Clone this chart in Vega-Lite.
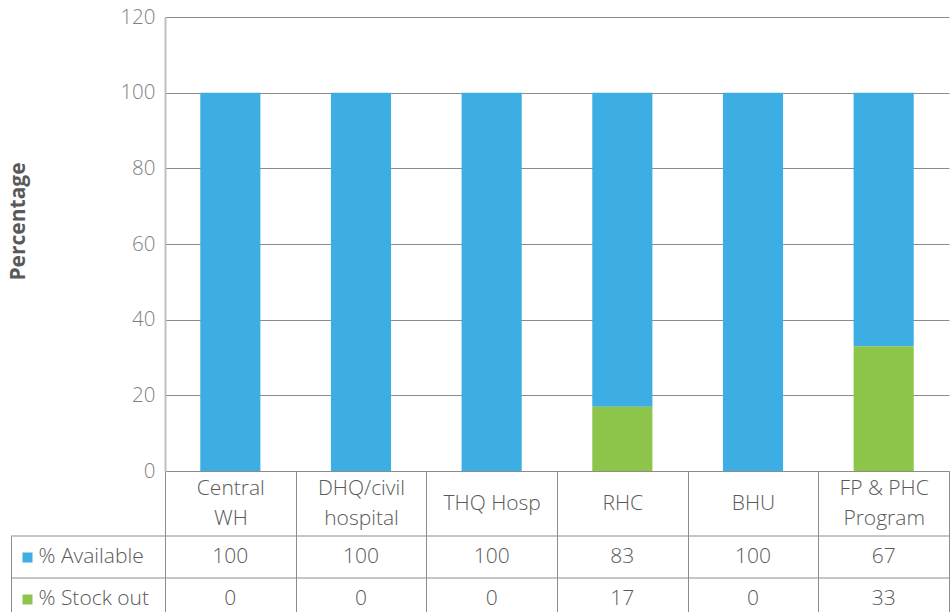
{
  "$schema": "https://vega.github.io/schema/vega-lite/v6.json",
  "padding": {"left": 7, "top": 7, "right": 0, "bottom": 0},
  "config": {
    "font": "Open Sans",
    "view": {"stroke": null},
    "axis": {"labelFont": "Open Sans", "titleFont": "Open Sans"}
  },
  "datasets": {
    "stock": [
      {"site": "Central WH", "series": "% Available", "value": 100},
      {"site": "Central WH", "series": "% Stock out", "value": 0},
      {"site": "DHQ/civil hospital", "series": "% Available", "value": 100},
      {"site": "DHQ/civil hospital", "series": "% Stock out", "value": 0},
      {"site": "THQ Hosp", "series": "% Available", "value": 100},
      {"site": "THQ Hosp", "series": "% Stock out", "value": 0},
      {"site": "RHC", "series": "% Available", "value": 83},
      {"site": "RHC", "series": "% Stock out", "value": 17},
      {"site": "BHU", "series": "% Available", "value": 100},
      {"site": "BHU", "series": "% Stock out", "value": 0},
      {"site": "FP & PHC Program", "series": "% Available", "value": 67},
      {"site": "FP & PHC Program", "series": "% Stock out", "value": 33}
    ],
    "rows": [
      {"series": "% Available"},
      {"series": "% Stock out"}
    ]
  },
  "columns": 2,
  "bounds": "flush",
  "align": "each",
  "spacing": {"row": 65, "column": 0},
  "resolve": {"scale": {"x": "independent", "y": "independent", "color": "independent"}},
  "concat": [
    {
      "width": 154,
      "height": 454,
      "data": {"values": [{}]},
      "mark": {"type": "text", "text": ""},
      "encoding": {}
    },
    {
      "width": 784,
      "height": 454,
      "data": {"name": "stock"},
      "mark": {"type": "bar", "width": {"band": 0.46}},
      "encoding": {
        "x": {
          "field": "site",
          "type": "nominal",
          "sort": null,
          "scale": {"paddingInner": 0, "paddingOuter": 0},
          "axis": {
            "title": null,
            "labelAngle": 0,
            "labelFontSize": 21,
            "labelFontWeight": 300,
            "labelColor": "#595959",
            "labelLineHeight": 30,
            "labelPadding": -32.5,
            "labelExpr": "datum.label == 'Central WH' ? ['Central', 'WH'] : datum.label == 'DHQ/civil hospital' ? ['DHQ/civil', 'hospital'] : datum.label == 'FP & PHC Program' ? ['FP & PHC', 'Program'] : datum.label",
            "labelBaseline": {"expr": "indexof(['Central WH', 'DHQ/civil hospital', 'FP & PHC Program'], datum.value) >= 0 ? 'line-bottom' : 'middle'"},
            "tickBand": "extent",
            "tickSize": 65,
            "tickColor": "#8C8C8C",
            "domainColor": "#8C8C8C",
            "grid": false
          }
        },
        "y": {
          "field": "value",
          "type": "quantitative",
          "stack": "zero",
          "scale": {"domain": [0, 120]},
          "axis": {
            "values": [0, 20, 40, 60, 80, 100, 120],
            "title": "Percentage",
            "titleFontSize": 21,
            "titleFontWeight": "bold",
            "titleColor": "#595959",
            "titleX": -137,
            "titleY": 204,
            "grid": true,
            "gridColor": "#8C8C8C",
            "ticks": false,
            "domainColor": "#BFBFBF",
            "domainWidth": 2,
            "labelFontSize": 20.5,
            "labelFontWeight": 300,
            "labelColor": "#7F7F7F",
            "labelPadding": 10
          }
        },
        "color": {
          "field": "series",
          "type": "nominal",
          "scale": {"domain": ["% Available", "% Stock out"], "range": ["#3DAEE4", "#8DC54B"]},
          "legend": null
        },
        "order": {"field": "series", "sort": "descending"}
      }
    },
    {
      "width": 154,
      "height": 76,
      "data": {"name": "rows"},
      "mark": {"type": "rule", "color": "#8C8C8C"},
      "encoding": {
        "y": {
          "field": "series",
          "type": "nominal",
          "bandPosition": 0,
          "scale": {"range": [0, 84], "paddingInner": 0, "paddingOuter": 0},
          "axis": {
            "title": null,
            "labels": false,
            "ticks": false,
            "grid": false,
            "domain": true,
            "domainColor": "#8C8C8C"
          }
        }
      }
    },
    {
      "width": 784,
      "height": 76,
      "layer": [
        {
          "data": {"name": "rows"},
          "mark": {"type": "rule", "color": "#8C8C8C"},
          "encoding": {
            "y": {"field": "series", "type": "nominal", "bandPosition": 0}
          }
        },
        {
          "data": {"name": "stock"},
          "mark": {"type": "text", "fontSize": 21, "fontWeight": 300, "color": "#595959", "baseline": "middle"},
          "encoding": {
            "x": {
              "field": "site",
              "type": "nominal",
              "sort": null,
              "scale": {"paddingInner": 0, "paddingOuter": 0},
              "axis": {
                "title": null,
                "labels": false,
                "ticks": false,
                "domain": false,
                "grid": true,
                "tickBand": "extent",
                "gridColor": "#8C8C8C"
              }
            },
            "y": {
              "field": "series",
              "type": "nominal",
              "scale": {"range": [0, 84], "paddingInner": 0, "paddingOuter": 0},
              "axis": {
                "title": null,
                "domain": false,
                "grid": false,
                "labelAlign": "left",
                "labelBaseline": "middle",
                "labelFontSize": 21,
                "labelFontWeight": 300,
                "labelColor": "#595959",
                "labelPadding": -16,
                "tickSize": 143,
                "tickWidth": 10,
                "tickDash": [0, 133, 10, 20],
                "tickColor": {"expr": "datum.value == '% Available' ? '#3DAEE4' : '#8DC54B'"}
              }
            },
            "text": {"field": "value", "type": "quantitative"}
          }
        }
      ]
    }
  ]
}
